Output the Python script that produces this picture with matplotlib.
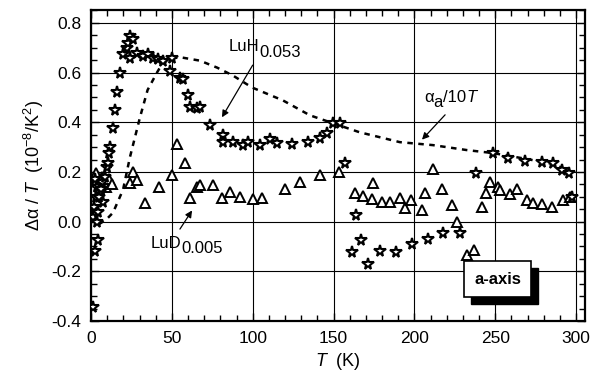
import matplotlib
matplotlib.use("Agg")
import matplotlib.pyplot as plt
from matplotlib.patches import Rectangle
from matplotlib.ticker import MultipleLocator

plt.rcParams['font.family'] = ['Liberation Sans', 'DejaVu Sans']
plt.rcParams['mathtext.fontset'] = 'custom'
plt.rcParams['mathtext.rm'] = 'Liberation Sans'
plt.rcParams['mathtext.it'] = 'Liberation Sans:italic'

# LuH0.053 (stars)
luh_T = [1.2, 2.5, 4.3, 1.5, 2.0, 3.0, 3.5, 4.5, 5.5, 6.5, 7.5, 8.5, 2.2, 3.8,
         5.0, 6.0, 9.9, 10.5, 11.7, 11.0, 13.6, 14.8, 16.0, 17.9, 19.8, 22.2,
         22.9, 24.1, 26.0, 24.1, 28.4, 32.2, 35.3, 38.3, 41.4, 44.5, 50.0,
         48.9, 55.0, 56.9, 60.0, 61.2, 65.5, 67.4, 73.6, 81.6, 81.6, 87.8,
         94.0, 97.1, 104.5, 110.7, 115.0, 124.3, 134.2, 141.6, 146.0, 149.7,
         154.0, 157.0, 163.9, 161.4, 167.0, 171.3, 178.7, 188.6, 198.5,
         208.4, 217.7, 228.2, 238.0, 248.6, 257.9, 268.4, 278.9, 285.7,
         291.3, 295.6, 297.5]
luh_v = [-0.344, -0.12, -0.072, 0.02, 0.06, 0.10, 0.14, 0.04, 0.12, 0.16,
         0.08, 0.18, 0.17, 0.0, 0.10, 0.13, 0.22, 0.236, 0.30, 0.276, 0.376,
         0.448, 0.52, 0.60, 0.675, 0.70, 0.72, 0.748, 0.735, 0.66, 0.68,
         0.668, 0.675, 0.66, 0.655, 0.648, 0.66, 0.608, 0.58, 0.575, 0.508,
         0.46, 0.456, 0.46, 0.388, 0.348, 0.32, 0.32, 0.308, 0.32, 0.308,
         0.332, 0.316, 0.312, 0.32, 0.336, 0.356, 0.396, 0.396, 0.236, 0.028,
         -0.124, -0.072, -0.172, -0.12, -0.124, -0.088, -0.068, -0.044,
         -0.044, 0.196, 0.276, 0.256, 0.244, 0.24, 0.236, 0.208, 0.196, 0.10]

# LuD0.005 (triangles)
lud_T = [3.0, 5.0, 7.0, 9.0, 11.0, 13.0, 24.0, 26.0, 28.4, 33.4, 42.1, 50.0,
         53.2, 58.1, 61.2, 65.5, 67.4, 75.5, 81.0, 86.0, 92.1, 100.2, 105.8,
         120.0, 129.3, 141.6, 153.4, 163.3, 168.2, 173.8, 174.4, 180.0, 184.9,
         191.0, 194.2, 197.9, 204.7, 206.6, 211.5, 217.0, 223.3, 226.3,
         232.5, 236.9, 241.8, 244.3, 246.8, 251.7, 252.9, 259.1, 263.4,
         269.6, 273.3, 278.9, 285.1, 291.9, 296.2]
lud_v = [0.196, 0.16, 0.18, 0.14, 0.17, 0.15, 0.156, 0.2, 0.168, 0.076, 0.14,
         0.188, 0.312, 0.236, 0.096, 0.14, 0.148, 0.148, 0.096, 0.12, 0.10,
         0.092, 0.096, 0.132, 0.16, 0.188, 0.2, 0.116, 0.104, 0.092, 0.156,
         0.08, 0.08, 0.096, 0.056, 0.088, 0.048, 0.116, 0.212, 0.13, 0.068,
         0.0, -0.136, -0.116, 0.06, 0.116, 0.16, 0.14, 0.128, 0.112, 0.13,
         0.088, 0.076, 0.072, 0.06, 0.088, 0.10]

# alpha_a / 10T (dashed curve)
alpha_T = [5.0, 7.4, 10.0, 13.6, 17.9, 19.8, 24.1, 30.3, 35.0, 40.8, 44.0,
           48.9, 55.0, 67.4, 78.0, 87.8, 99.6, 118.7, 135.4, 149.7, 166.0,
           191.0, 211.5, 232.5, 248.6, 269.6, 285.7, 292.0, 296.0]
alpha_v = [-0.01, 0.0, 0.012, 0.036, 0.10, 0.128, 0.26, 0.42, 0.53, 0.60,
           0.635, 0.655, 0.662, 0.648, 0.62, 0.588, 0.54, 0.488, 0.428, 0.396,
           0.36, 0.32, 0.308, 0.288, 0.276, 0.252, 0.232, 0.215, 0.196]


def chain_text(ax, x, y, parts, size=12):
    """Writes text pieces one after another: (text, dy in pt, style)."""
    prev = ax.text(x, y, parts[0][0], fontsize=size, ha='left',
                   va='baseline', fontstyle=parts[0][2], zorder=6)
    for s, dy, style in parts[1:]:
        prev = ax.annotate(s, xy=(1.0, 0.0), xycoords=prev,
                           xytext=(0, dy), textcoords='offset points',
                           fontsize=size, fontstyle=style, ha='left',
                           va='bottom', zorder=6)


fig = plt.figure(figsize=(5.94, 3.90), dpi=100)
ax = fig.add_axes([0.1532, 0.1769, 0.8316, 0.7975])

ax.plot(alpha_T, alpha_v, color='black', linestyle=(0, (2.2, 2.2)), lw=1.8,
        zorder=3)
ax.plot(lud_T, lud_v, linestyle='none', marker='^', ms=7, mfc='white',
        mec='black', mew=1.4, zorder=4)
ax.plot(luh_T, luh_v, linestyle='none', marker='*', ms=8.5, mfc='white',
        mec='black', mew=1.5, zorder=5)

ax.set_xlim(0, 305.5)
ax.set_ylim(-0.4, 0.852)
ax.xaxis.set_major_locator(MultipleLocator(50))
ax.xaxis.set_minor_locator(MultipleLocator(10))
ax.yaxis.set_major_locator(MultipleLocator(0.2))
ax.yaxis.set_minor_locator(MultipleLocator(0.05))
ax.tick_params(which='both', direction='in', top=True, right=True,
               labelsize=12.5, width=1.0)
ax.tick_params(which='major', length=6, pad=7)
ax.tick_params(which='minor', length=4)
ax.grid(True, which='major', color='black', lw=0.8)
for s in ax.spines.values():
    s.set_linewidth(1.6)
ax.set_yticklabels([f'{t:.1f}' for t in ax.get_yticks()])

ax.set_xlabel(r'$T$  (K)', fontsize=13)
ax.set_ylabel(r'Δα / $T$  (10$^{-8}$/K$^2$)', fontsize=13)

arrow = dict(arrowstyle='-|>', color='black', lw=0.9, shrinkA=0, shrinkB=0,
             mutation_scale=10)

# labels with nearly full-size subscripts, like the original
chain_text(ax, 85, 0.685, [('LuH', 0, 'normal'), ('0.053', -4, 'normal')])
ax.annotate('', xy=(81, 0.42), xytext=(100, 0.63), arrowprops=arrow, zorder=6)

chain_text(ax, 206, 0.48, [('α', 0, 'normal'), ('a', -3.5, 'normal'),
                           ('/10', 3.5, 'normal'), ('T', 0, 'italic')])
ax.annotate('', xy=(204.7, 0.33), xytext=(219, 0.43), arrowprops=arrow,
            zorder=6)

chain_text(ax, 37, -0.105, [('LuD', 0, 'normal'), ('0.005', -4, 'normal')])
ax.annotate('', xy=(62.5, 0.045), xytext=(55, -0.03), arrowprops=arrow,
            zorder=6)

# shadowed label box
ax.add_patch(Rectangle((235.0, -0.332), 41.5, 0.144, facecolor='black',
                       edgecolor='black', zorder=7))
ax.add_patch(Rectangle((230.7, -0.304), 41.5, 0.144, facecolor='white',
                       edgecolor='black', lw=1.2, zorder=8))
ax.text(251.4, -0.232, 'a-axis', fontsize=12, fontweight='bold',
        ha='center', va='center', zorder=9)

fig.savefig('out.png', dpi=100)
